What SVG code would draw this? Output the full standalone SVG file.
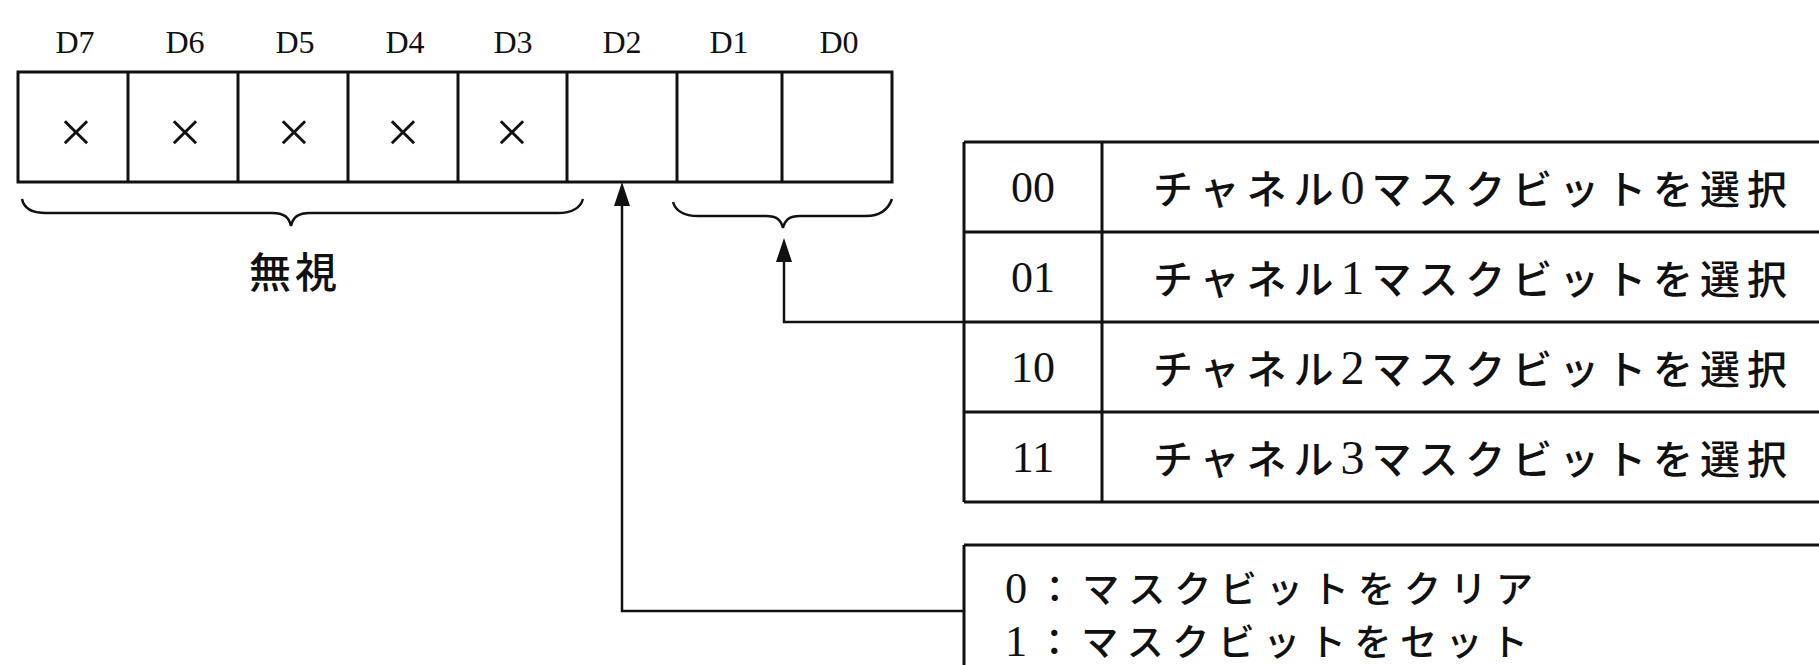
<svg xmlns="http://www.w3.org/2000/svg" width="1819" height="665" viewBox="0 0 1819 665">
  <style>
    .ln { fill: none; stroke: #111; stroke-width: 3; }
    .thin { fill: none; stroke: #111; stroke-width: 2.5; }
    .ser { font-family: "Liberation Serif", "Times New Roman", serif; fill: #111; }
    .jp { font-family: "Noto Sans CJK JP", "Noto Sans", sans-serif; font-weight: 500; fill: #111; }
    .bit { font-size: 32px; text-anchor: middle; }
    .x { font-size: 60px; text-anchor: middle; }
    .code { font-size: 44px; text-anchor: middle; }
    .desc { font-size: 40px; }
    .desc2 { font-size: 37px; }
    .dg { font-family: "Liberation Serif", "Times New Roman", serif; font-size: 1.2em; }
  </style>
  <defs>
    <marker id="arrow" viewBox="0 0 24 16" markerWidth="24" markerHeight="16" refX="16" refY="8" orient="auto" markerUnits="userSpaceOnUse">
      <path d="M0,0 L24,8 L0,16 z" fill="#111"/>
    </marker>
  </defs>
  <rect width="1819" height="665" fill="#ffffff"/>

  <g id="register">
    <rect class="ln" x="18" y="72" width="874" height="110"/>
    <path class="ln" d="M128,72 V182 M238,72 V182 M348,72 V182 M458,72 V182 M567,72 V182 M677,72 V182 M782,72 V182"/>
    <g class="ser bit">
      <text x="75" y="53">D7</text>
      <text x="185" y="53">D6</text>
      <text x="295" y="53">D5</text>
      <text x="405" y="53">D4</text>
      <text x="513" y="53">D3</text>
      <text x="622" y="53">D2</text>
      <text x="729" y="53">D1</text>
      <text x="839" y="53">D0</text>
    </g>
    <g class="ser x">
      <text x="76" y="152">×</text>
      <text x="185" y="152">×</text>
      <text x="294" y="152">×</text>
      <text x="403" y="152">×</text>
      <text x="512" y="152">×</text>
    </g>
  </g>

  <g id="brace-ignore">
    <path class="thin" d="M22,199 C24,209 32,213 46,213 H272 C284,213 289,217 291,226 C293,217 298,213 310,213 H558 C572,213 580,209 583,199"/>
    <text class="jp" x="295" y="288" font-size="42" text-anchor="middle" letter-spacing="4">無視</text>
  </g>

  <g id="brace-d1d0">
    <path class="thin" d="M673,202 C676,212 684,216 698,216 H766 C777,216 781,220 783,228 C785,220 789,216 800,216 H866 C880,216 888,210 892,199"/>
  </g>

  <g id="channel-table">
    <path class="ln" d="M964,142 H1830 M964,232 H1830 M964,322 H1830 M964,412 H1830 M964,502 H1830 M964,142 V502 M1102,142 V502"/>
    <g class="ser code">
      <text x="1033" y="202">00</text>
      <text x="1033" y="292">01</text>
      <text x="1033" y="382">10</text>
      <text x="1033" y="472">11</text>
    </g>
    <g class="jp desc">
      <text x="1153" y="204" textLength="634" lengthAdjust="spacing">チャネル<tspan class="dg">0</tspan>マスクビットを選択</text>
      <text x="1153" y="294" textLength="634" lengthAdjust="spacing">チャネル<tspan class="dg">1</tspan>マスクビットを選択</text>
      <text x="1153" y="384" textLength="634" lengthAdjust="spacing">チャネル<tspan class="dg">2</tspan>マスクビットを選択</text>
      <text x="1153" y="474" textLength="634" lengthAdjust="spacing">チャネル<tspan class="dg">3</tspan>マスクビットを選択</text>
    </g>
  </g>

  <g id="mask-box">
    <path class="ln" d="M964,545 H1830 M964,545 V680"/>
    <g class="jp desc2">
      <text x="1005" y="603" textLength="528" lengthAdjust="spacing"><tspan class="dg">0</tspan>：マスクビットをクリア</text>
      <text x="1005" y="656" textLength="523" lengthAdjust="spacing"><tspan class="dg">1</tspan>：マスクビットをセット</text>
    </g>
  </g>

  <g id="connectors">
    <path class="thin" d="M964,611 H622 V190" marker-end="url(#arrow)"/>
    <path class="thin" d="M964,322 H784 V246" marker-end="url(#arrow)"/>
  </g>
</svg>
